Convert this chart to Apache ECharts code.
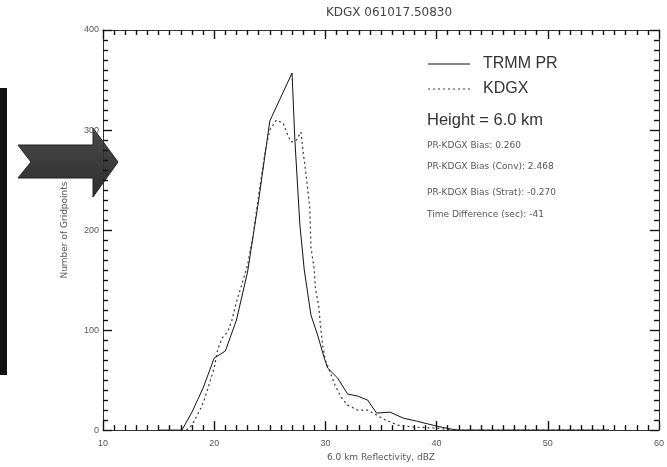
<!DOCTYPE html>
<html>
<head>
<meta charset="utf-8">
<script src="https://cdn.jsdelivr.net/npm/echarts@6/dist/echarts.min.js"></script>
<style>html,body{margin:0;padding:0;background:#fff}#c{width:667px;height:467px}</style>
</head>
<body>
<div id="c"></div>
<script>
// ---- data ----
const titleText = 'KDGX 061017.50830';
const xTickLabels = [10, 20, 30, 40, 50, 60];
const yTickLabels = [0, 100, 200, 300, 400];
const seriesNames = ['TRMM PR', 'KDGX'];
const prX = [15, 17.1, 18, 19, 20, 21, 22, 23, 24, 25, 26, 27, 27.25, 27.7, 28.1, 28.7, 29.3, 29.9, 30.2, 31.1, 32, 32.9, 33.8, 34.6, 35.8, 37, 38.2, 40, 41.3, 42, 55.5];
const prY = [0, 0, 18, 42, 72, 79, 110, 158, 230, 309, 333, 357, 291, 206, 160, 115, 95, 72, 62, 52, 36, 34, 30, 17, 18, 12, 9, 4, 1, 0, 0];
const kdX = [17.5, 18, 18.8, 19.1, 20, 20.3, 20.7, 21.2, 21.6, 22, 22.6, 23, 23.5, 24, 24.6, 25, 25.6, 26.2, 26.5, 26.9, 27.4, 27.8, 28, 28.3, 28.6, 28.7, 29, 29.1, 29.4, 29.55, 29.75, 30, 30.9, 31.4, 32, 32.9, 33.8, 35.4, 36.5, 38, 40, 41.5, 55.5];
const kdY = [0, 5, 22, 30, 62, 80, 92, 98, 110, 128, 150, 165, 195, 235, 280, 300, 310, 307, 298, 288, 290, 298, 278, 252, 222, 183, 160, 142, 124, 105, 85, 70, 44, 33, 25, 20, 20, 10, 5, 3, 2, 0, 0];
const infoLines = ['PR-KDGX Bias: 0.260', 'PR-KDGX Bias (Conv): 2.468', 'PR-KDGX Bias (Strat): -0.270', 'Time Difference (sec): -41'];
const heightText = 'Height = 6.0 km';

const pairs = (xs, ys) => xs.map((x, i) => [x, ys[i]]);
const axisCol = '#333';
const font = 'Liberation Sans, Arial, sans-serif';
const wfont = 'DejaVu Sans, sans-serif';
const lineColors = ['#111', '#333'];
const lineTypes = ['solid', [2, 3]];

const chart = echarts.init(document.getElementById('c'));
const tickCommon = () => ({
  axisLine: { show: true, onZero: false, lineStyle: { color: axisCol, width: 1 } },
  axisTick: { show: true, inside: true, length: 9, lineStyle: { color: '#111', width: 1.4 } },
  minorTick: { show: true, splitNumber: 10, length: 5, lineStyle: { color: '#111', width: 1.4 } },
  splitLine: { show: false },
  axisLabel: { show: false }
});
chart.setOption({
  animation: false,
  backgroundColor: '#fff',
  title: {
    text: titleText, left: 384, top: 2, textAlign: 'center',
    textStyle: { fontSize: 12, fontWeight: 'normal', color: '#444', fontFamily: wfont }
  },
  grid: { left: 103, right: 2, top: 30, bottom: 30 },
  xAxis: [
    Object.assign(tickCommon(), {
      type: 'value', min: 10, max: 60, interval: 10, position: 'bottom',
      name: '6.0 km Reflectivity, dBZ', nameLocation: 'middle', nameGap: 19,
      nameTextStyle: { fontSize: 9, color: '#555', fontFamily: wfont },
      axisLabel: { show: true, color: '#555', fontSize: 9, fontFamily: font, margin: 9,
        formatter: v => xTickLabels.includes(v) ? String(v) : '' }
    }),
    Object.assign(tickCommon(), { type: 'value', min: 10, max: 60, interval: 10, position: 'top' })
  ],
  yAxis: [
    Object.assign(tickCommon(), {
      type: 'value', min: 0, max: 400, interval: 100, position: 'left',
      name: 'Number of Gridpoints', nameLocation: 'middle', nameGap: 34,
      nameTextStyle: { fontSize: 9, color: '#555', fontFamily: wfont },
      axisLabel: { show: true, color: '#555', fontSize: 9, fontFamily: font, margin: 4,
        formatter: v => yTickLabels.includes(v) ? String(v) : '' }
    }),
    Object.assign(tickCommon(), { type: 'value', min: 0, max: 400, interval: 100, position: 'right' })
  ],
  series: [
    { name: seriesNames[0], type: 'line', data: pairs(prX, prY), symbol: 'none',
      lineStyle: { color: lineColors[0], width: 1, type: lineTypes[0] } },
    { name: seriesNames[1], type: 'line', data: pairs(kdX, kdY), symbol: 'none',
      lineStyle: { color: lineColors[1], width: 1.2, type: lineTypes[1] } },
    { name: 'frame', type: 'line', xAxisIndex: 1, yAxisIndex: 1, data: [], symbol: 'none', silent: true }
  ],
  graphic: [
    { type: 'rect', left: 0, top: 88, shape: { width: 7, height: 287 }, style: { fill: '#111' } },
    { type: 'polygon', shape: { points: [[18,145],[93,145],[93,128],[118,162],[93,197],[93,178],[18,178],[31,162]] },
      style: { fill: new echarts.graphic.LinearGradient(0,0,0,1,[{offset:0,color:'#4a4a4a'},{offset:1,color:'#2e2e2e'}]), stroke: '#222', lineWidth: 1 } },
    ...seriesNames.flatMap((n, i) => [
      { type: 'line', shape: { x1: 428, y1: 64 + 25 * i, x2: 470, y2: 64 + 25 * i },
        style: { stroke: lineColors[i], lineWidth: 1, lineDash: i ? [2, 3] : null } },
      { type: 'text', left: 483, top: 56 + 25 * i,
        style: { text: n, fontSize: 16, fill: '#333', fontFamily: font } }
    ]),
    { type: 'text', left: 427, top: 112, style: { text: heightText, fontSize: 16.5, fill: '#333', fontFamily: font } },
    ...infoLines.map((t, i) => ({ type: 'text', left: 427, top: [141, 162, 188, 210][i],
      style: { text: t, fontSize: 9, fill: '#555', fontFamily: wfont } }))
  ]
});
</script>
</body>
</html>
